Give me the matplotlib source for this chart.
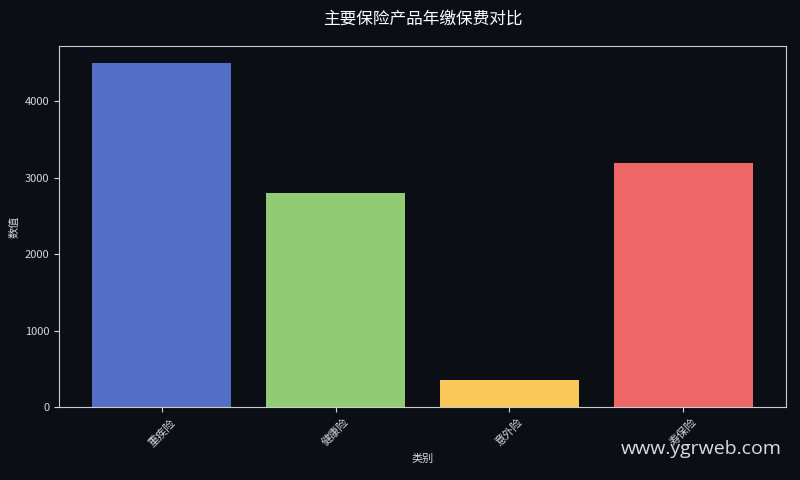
import matplotlib.pyplot as plt

plt.rcParams['font.family'] = ['Noto Sans CJK SC', 'DejaVu Sans']

# 数据
categories = ['重疾险', '健康险', '意外险', '寿保险']
values = [4500, 2800, 350, 3200]
colors = ['#5470c6', '#91cc75', '#fac858', '#ee6666']

bg = '#0b0e14'
fg = '#d8d8d8'

fig, ax = plt.subplots(figsize=(8, 4.8), dpi=100)
fig.patch.set_facecolor(bg)
ax.set_facecolor(bg)

ax.bar(categories, values, color=colors, width=0.8)

ax.set_title('主要保险产品年缴保费对比', color='white', fontsize=12, pad=16)
ax.set_xlabel('类别', color=fg, fontsize=8)
ax.set_ylabel('数值', color=fg, fontsize=8)

ax.tick_params(colors=fg, labelsize=8)
plt.setp(ax.get_xticklabels(), rotation=45)
for s in ax.spines.values():
    s.set_color('#cccccc')

fig.subplots_adjust(left=0.074, right=0.982, top=0.904, bottom=0.152)

fig.text(0.977, 0.045, 'www.ygrweb.com', color='#dddddd', fontsize=14,
         ha='right', va='bottom', family='Open Sans')

fig.savefig('out.png', facecolor=bg)
